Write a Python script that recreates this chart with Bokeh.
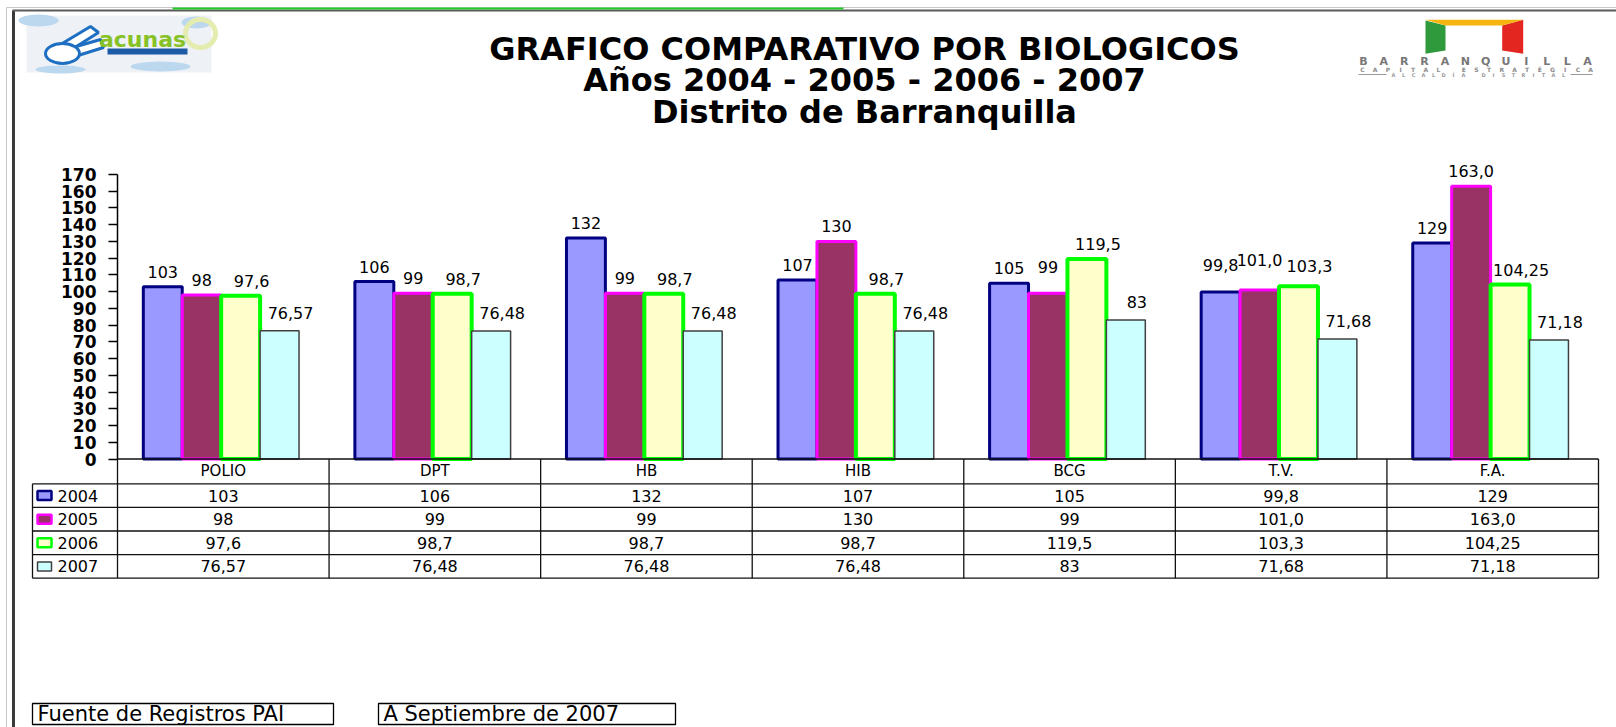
import numpy as np
from bokeh.plotting import figure
from bokeh.models import Range1d, FixedTicker
from bokeh.core.properties import value
from bokeh.embed import file_html
from bokeh.resources import INLINE

# ---------------- data ----------------
categories = ["POLIO", "DPT", "HB", "HIB", "BCG", "T.V.", "F.A."]
years = ["2004", "2005", "2006", "2007"]
s2004 = ["103", "106", "132", "107", "105", "99,8", "129"]
s2005 = ["98", "99", "99", "130", "99", "101,0", "163,0"]
s2006 = ["97,6", "98,7", "98,7", "98,7", "119,5", "103,3", "104,25"]
s2007 = ["76,57", "76,48", "76,48", "76,48", "83", "71,68", "71,18"]
yticks = list(range(0, 171, 10))
title_lines = ["GRAFICO COMPARATIVO POR BIOLOGICOS",
               "Años 2004 - 2005 - 2006 - 2007",
               "Distrito de Barranquilla"]
notes = ["Fuente de Registros PAI", "A Septiembre de 2007"]

series_txt = [s2004, s2005, s2006, s2007]
series_val = [[float(s.replace(",", ".")) for s in ser] for ser in series_txt]

# ---------------- styles / layout ----------------
FONT = value("DejaVu Sans")
fills = ["#9999FF", "#993366", "#FFFFCC", "#CCFFFF"]
lines = ["#000080", "#FF00FF", "#00FF00", "#404040"]
lws = [3, 3, 4, 1.5]
label_dx = [0, 0, 11, 11]
label_gap = [15, 15, 15, 18]                 # px between bar top and label centre
label_lift = {(1, 4): 11, (0, 5): 12, (1, 5): 15, (2, 5): 5}   # extra lift (series, category)

W, H = 1616, 727
FL, FR = 117, 18
Y0 = 458.5          # canvas y of value 0
PXU = 1.6735        # pixels per unit
ylo = -(H - Y0) / PXU
yhi = Y0 / PXU
ncat = len(categories)
BW = 0.184
GC = 0.49

p = figure(width=W, height=H, x_range=Range1d(0, ncat), y_range=Range1d(ylo, yhi),
           x_axis_location=None, y_axis_location="left",
           output_backend="svg", toolbar_location=None,
           min_border_left=FL, min_border_right=FR, min_border_top=0, min_border_bottom=0)
p.extra_x_ranges["px"] = Range1d(FL, W - FR)
p.extra_y_ranges["px"] = Range1d(H, 0)
p.grid.visible = False
p.outline_line_color = None
p.background_fill_color = "white"
p.border_fill_color = "white"

ax = p.yaxis[0]
ax.bounds = (0, 170)
ax.ticker = FixedTicker(ticks=yticks)
ax.minor_tick_line_color = None
ax.major_tick_in = 0
ax.major_tick_out = 9
ax.major_tick_line_width = 1.5
ax.axis_line_width = 1.5
ax.axis_line_color = "black"
ax.major_tick_line_color = "black"
ax.major_label_text_font = "DejaVu Sans"
ax.major_label_text_font_style = "bold"
ax.major_label_text_font_size = "17px"
ax.major_label_text_color = "black"
ax.major_label_standoff = 12

OV = dict(x_range_name="px", y_range_name="px", level="overlay")
OVC = dict(y_range_name="px", level="overlay")


def txt(xs, ys, ts, size, kw, bold=False, align="center", baseline="middle", color="black"):
    p.text(x=xs, y=ys, text=ts, text_font=FONT, text_font_size=f"{size}px",
           text_font_style="bold" if bold else "normal", text_align=align,
           text_baseline=baseline, text_color=color, **kw)


# ---------------- bars ----------------
idx = np.arange(ncat)
for k in range(4):
    xs = idx + GC + (k - 1.5) * BW
    p.vbar(x=xs, top=series_val[k], bottom=0, width=BW, fill_color=fills[k],
           line_color=lines[k], line_width=lws[k])
for k in range(4):
    xs = idx + GC + (k - 1.5) * BW
    yoff = [-(label_gap[k] + label_lift.get((k, i), 0)) for i in range(ncat)]
    p.text(x=xs, y=series_val[k], text=series_txt[k], x_offset=label_dx[k], y_offset=yoff,
           text_font=FONT, text_font_size="16px", text_align="center",
           text_baseline="middle", text_color="black", level="overlay")

# ---------------- data table ----------------
HEAD_H = 24.8
ROW_H = 23.6
ty = [Y0, Y0 + HEAD_H] + [Y0 + HEAD_H + ROW_H * (r + 1) for r in range(4)]
LEG_L = 32
TL = dict(line_color="#111111", line_width=1.3)
p.segment(x0=[0], y0=[ty[0]], x1=[ncat], y1=[ty[0]], **OVC, **TL)
p.segment(x0=[0] * 5, y0=ty[1:], x1=[ncat] * 5, y1=ty[1:], **OVC, **TL)
p.segment(x0=[LEG_L] * 5, y0=ty[1:], x1=[FL] * 5, y1=ty[1:], **OV, **TL)
p.segment(x0=list(range(ncat + 1)), y0=[ty[0]] * (ncat + 1),
          x1=list(range(ncat + 1)), y1=[ty[-1]] * (ncat + 1), **OVC, **TL)
p.segment(x0=[LEG_L], y0=[ty[1]], x1=[LEG_L], y1=[ty[-1]], **OV, **TL)
txt(list(idx + 0.5), [(ty[0] + ty[1]) / 2] * ncat, categories, 15, OVC)
for k in range(4):
    yc = (ty[k + 1] + ty[k + 2]) / 2
    txt(list(idx + 0.5), [yc] * ncat, series_txt[k], 16, OVC)
for k in range(4):
    yc = (ty[k + 1] + ty[k + 2]) / 2
    p.rect(x=[44], y=[yc], width=14, height=9, fill_color=fills[k],
           line_color=lines[k], line_width=2.5 if k < 3 else 1.5, **OV)
    txt([57], [yc], [years[k]], 16, OV, align="left")

# ---------------- title ----------------
tcy = [48.4, 79.4, 111.3]
txt([864] * 3, tcy, title_lines, 32, OV, bold=True)

# ---------------- footer notes ----------------
boxes = [(32, 333), (378, 675)]
for (l, r), t in zip(boxes, notes):
    p.quad(left=[l], right=[r], top=[703], bottom=[724], fill_color=None,
           line_color="black", line_width=1.3, **OV)
    txt([l + 5], [713.5], [t], 21, OV, align="left")

# ---------------- frame decoration ----------------
p.segment(x0=[13], y0=[10], x1=[13], y1=[H], line_color="#3a3a3a", line_width=3, **OV)
p.segment(x0=[12], y0=[10], x1=[W], y1=[10], line_color="#5a5a5a", line_width=2, **OV)
p.segment(x0=[6], y0=[7], x1=[W], y1=[7], line_color="#c8c8c8", line_width=1, **OV)
p.segment(x0=[6], y0=[7], x1=[6], y1=[H], line_color="#c8c8c8", line_width=1, **OV)
p.segment(x0=[172], y0=[8], x1=[843], y1=[8], line_color="#22cc22", line_width=2, **OV)

# ---------------- left logo (vacunas) ----------------
p.quad(left=[26], right=[211], top=[15], bottom=[72], fill_color="#eef1f5",
       line_color=None, **OV)
p.ellipse(x=[38, 60, 160, 196], y=[20, 69, 66, 22], width=[40, 50, 60, 30],
          height=[12, 8, 10, 12], fill_color="#bcd8ef", line_color=None, **OV)
p.ellipse(x=[200], y=[33], width=[30], height=[28], fill_color=None,
          line_color="#e4ecb0", line_width=5, **OV)
p.patch(x=[60, 90, 98, 68], y=[44, 26, 32, 51], fill_color="white",
        line_color="#1e6fc2", line_width=3, **OV)
p.patch(x=[62, 100, 103, 68], y=[50, 39, 47, 58], fill_color="white",
        line_color="#1e6fc2", line_width=3, **OV)
p.ellipse(x=[62], y=[53], width=[34], height=[20],
          fill_color="white", line_color="#1e6fc2", line_width=3, **OV)
txt([142], [39], ["acunas"], 22, OV, bold=True, color="#86c226")
p.quad(left=[107], right=[187], top=[48], bottom=[54], fill_color="#1d5aa6",
       line_color=None, **OV)

# ---------------- right logo (Barranquilla) ----------------
p.patch(x=[1425, 1445, 1445, 1425], y=[20, 25, 50, 53.3], fill_color="#2f9a3b",
        line_color=None, **OV)
p.patch(x=[1501.7, 1522.7, 1522.7, 1501.7], y=[25, 19.3, 53.3, 50], fill_color="#e3261f",
        line_color=None, **OV)
p.patch(x=[1425, 1522.7, 1501.7, 1445], y=[19.3, 19.3, 25, 25], fill_color="#f6b40e",
        line_color=None, **OV)
brand = list("BARRANQUILLA")
txt(list(np.linspace(1363, 1587, len(brand))), [61] * len(brand), brand, 11, OV,
    bold=True, color="#777777")
sub1 = list("CAPITAL ESTRATÉGICA")
txt(list(np.linspace(1362, 1590, len(sub1))), [68.5] * len(sub1), sub1, 6, OV,
    bold=True, color="#8a8a8a")
sub2 = list("ALCALDÍA DISTRITAL")
txt(list(np.linspace(1393, 1563, len(sub2))), [74] * len(sub2), sub2, 5, OV,
    bold=True, color="#9a9a9a")
p.segment(x0=[1358, 1570], y0=[74, 74], x1=[1386, 1592], y1=[74, 74],
          line_color="#9a9a9a", line_width=1, **OV)

open("out.html", "w").write(file_html(p, INLINE))
